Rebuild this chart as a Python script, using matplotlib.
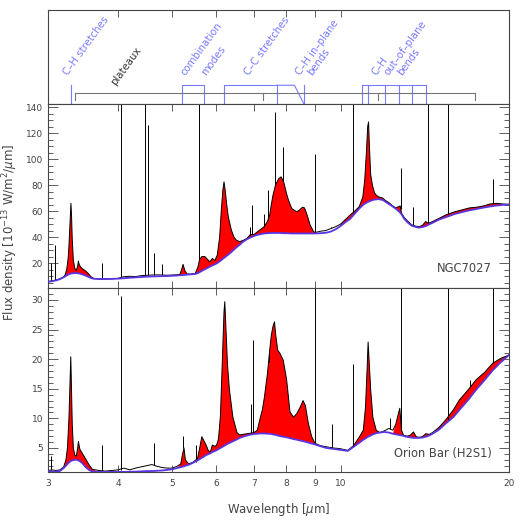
import numpy as np
import matplotlib
matplotlib.use("Agg")
import matplotlib.pyplot as plt

# ---- NGC7027 spectrum (wavelength [um], flux, continuum) ----
n7027_wave = [3.00, 3.05, 3.10, 3.15, 3.20, 3.22, 3.24, 3.26, 3.27, 3.28, 3.29, 3.297, 3.305, 3.315,
              3.33, 3.35, 3.37, 3.39, 3.40, 3.41, 3.43, 3.46, 3.50, 3.54, 3.58, 3.62, 3.70, 3.80,
              3.90, 4.00, 4.10, 4.20, 4.30, 4.40, 4.50, 4.60, 4.70, 4.80, 4.90, 5.00, 5.10, 5.16,
              5.20, 5.23, 5.27, 5.32, 5.40, 5.50, 5.56, 5.60, 5.65, 5.72, 5.78, 5.84, 5.90, 5.96,
              6.02, 6.08, 6.12, 6.16, 6.19, 6.22, 6.26, 6.30, 6.38, 6.45, 6.51, 6.60, 6.70, 6.80,
              6.90, 7.00, 7.10, 7.20, 7.30, 7.40, 7.47, 7.52, 7.57, 7.65, 7.75, 7.83, 7.92, 8.00,
              8.07, 8.18, 8.35, 8.45, 8.55, 8.62, 8.70, 8.82, 8.94, 9.00, 9.20, 9.40, 9.60, 9.80,
              10.0, 10.2, 10.4, 10.6, 10.8, 10.96, 11.05, 11.12, 11.18, 11.22, 11.26, 11.32, 11.40,
              11.50, 11.60, 11.70, 11.90, 12.00, 12.20, 12.40, 12.55, 12.70, 12.78, 12.85, 13.00,
              13.20, 13.40, 13.60, 13.80, 14.00, 14.20, 14.35, 14.60, 15.00, 15.50, 16.00, 16.50,
              17.00, 17.50, 18.00, 18.50, 19.00, 19.50, 20.00]
n7027_flux = [5.8, 6.3, 6.9, 7.9, 9.5, 11.0, 15.0, 24.0, 33.0, 45.0, 58.0, 66.0, 57.0, 38.0,
              22.0, 16.0, 14.0, 18.0, 21.5, 19.0, 17.0, 15.5, 14.0, 12.0, 9.5, 8.2, 7.8, 7.8,
              7.9, 8.2, 9.5, 9.8, 9.6, 10.3, 10.6, 10.8, 10.9, 10.8, 10.6, 10.8, 11.0, 11.2,
              15.0, 19.0, 14.0, 11.5, 11.5, 12.0, 17.0, 23.0, 25.0, 25.0, 23.0, 21.0, 23.5, 22.0,
              26.0, 40.0, 60.0, 76.0, 82.5, 76.0, 65.0, 55.6, 45.4, 40.0, 37.7, 36.5, 37.5, 39.0,
              42.0, 42.0, 44.0, 46.0, 48.0, 52.0, 57.0, 65.0, 72.0, 80.0, 85.0, 86.4, 82.0, 74.0,
              68.5, 62.0, 59.5, 61.0, 63.0, 62.5, 58.0, 49.5, 44.5, 43.5, 44.5, 45.0, 46.5, 48.0,
              50.0, 53.5, 57.0, 60.0, 63.5, 71.0, 85.0, 105.0, 125.0, 128.7, 110.0, 88.0, 80.0,
              74.0, 72.0, 71.0, 70.0, 68.5, 66.5, 64.0, 62.5, 63.5, 64.0, 58.5, 55.0,
              52.0, 49.5, 48.5, 48.0, 49.0, 52.0, 50.5, 52.0, 54.5, 57.5, 59.5, 61.0,
              62.5, 63.0, 64.0, 65.5, 66.0, 65.5, 65.2]
n7027_cont = [5.5, 6.0, 6.6, 7.6, 9.0, 9.8, 10.5, 11.0, 11.3, 11.6, 11.8, 11.9, 12.0, 12.1,
              12.2, 12.3, 12.3, 12.2, 12.1, 12.0, 11.7, 11.2, 10.4, 9.4, 8.5, 7.9, 7.7, 7.7,
              7.8, 8.0, 8.3, 8.7, 9.0, 9.3, 9.5, 9.7, 9.8, 9.9, 10.0, 10.2, 10.4, 10.6,
              10.8, 10.9, 11.0, 11.1, 11.3, 11.6, 12.3, 13.0, 14.0, 15.2, 16.3, 17.3, 18.2, 19.0,
              20.0, 21.3, 22.3, 23.3, 24.0, 24.7, 25.6, 26.5, 28.5, 30.4, 32.0, 34.0, 36.5, 38.3,
              39.7, 40.8, 41.7, 42.3, 42.8, 43.0, 43.1, 43.2, 43.2, 43.2, 43.2, 43.1, 43.0, 43.0,
              42.9, 42.8, 42.8, 42.8, 42.8, 42.8, 42.8, 42.8, 42.8, 42.8, 43.0, 43.3, 44.2, 46.0,
              48.5, 51.5, 54.0, 58.0, 62.0, 64.6, 65.8, 66.5, 67.0, 67.3, 67.6, 68.0, 68.5,
              68.9, 69.1, 69.2, 68.6, 67.5, 65.5, 63.5, 61.8, 60.0, 58.8, 57.5, 54.0,
              51.0, 48.8, 47.9, 47.3, 47.7, 48.5, 49.5, 51.0, 53.5, 55.7, 57.8, 59.3,
              60.6, 61.7, 62.7, 63.6, 64.3, 64.8, 65.1]
n7027_bands = [(3.2, 3.62), (5.16, 5.35), (5.5, 9.0), (10.0, 20.0)]
n7027_line_wave = [3.04, 3.09, 3.74, 4.05, 4.48, 4.53, 4.65, 4.80, 5.59, 6.88, 6.95, 7.31, 7.42,
                   7.65, 7.90, 9.00, 9.62, 10.51, 12.81, 13.10, 13.45, 14.32, 15.55, 18.71]
n7027_line_top = [20, 34, 20, 150, 150, 126, 27.5, 19, 150, 48, 65, 58, 76,
                  136, 109.5, 104, 48, 150, 93, 53, 63, 150, 150, 85]
n7027_line_base = [6.2, 6.8, 7.8, 8.5, 10.5, 10.6, 10.8, 10.8, 22, 41, 42, 48, 53,
                   80, 83, 43.5, 47, 58.5, 62, 53, 49.3, 51, 57.7, 65.6]

# ---- Orion Bar (H2S1) spectrum ----
orion_wave = [3.00, 3.05, 3.10, 3.15, 3.20, 3.23, 3.25, 3.27, 3.28, 3.29, 3.295, 3.305, 3.315, 3.33,
              3.35, 3.37, 3.39, 3.40, 3.42, 3.45, 3.50, 3.55, 3.60, 3.70, 3.80, 3.90, 4.00, 4.10,
              4.20, 4.30, 4.40, 4.50, 4.60, 4.70, 4.80, 4.90, 5.00, 5.10, 5.18, 5.22, 5.25, 5.28,
              5.35, 5.45, 5.55, 5.60, 5.65, 5.70, 5.75, 5.80, 5.85, 5.90, 5.95, 6.00, 6.05, 6.10,
              6.15, 6.19, 6.21, 6.24, 6.28, 6.33, 6.42, 6.53, 6.60, 6.70, 6.80, 6.90, 7.00, 7.10,
              7.16, 7.25, 7.31, 7.40, 7.47, 7.52, 7.57, 7.62, 7.66, 7.72, 7.79, 7.90, 8.01, 8.12,
              8.24, 8.35, 8.47, 8.57, 8.65, 8.76, 8.88, 9.00, 9.20, 9.43, 9.70, 9.96, 10.30, 10.55,
              10.81, 10.98, 11.08, 11.15, 11.20, 11.26, 11.32, 11.42, 11.58, 11.75, 11.98, 12.20,
              12.40, 12.55, 12.70, 12.76, 12.85, 12.95, 13.10, 13.30, 13.50, 13.65, 13.80, 14.00,
              14.20, 14.40, 14.60, 15.00, 15.40, 15.90, 16.30, 16.90, 17.46, 18.10, 18.70, 19.30,
              20.00]
orion_flux = [1.2, 1.3, 1.2, 1.3, 1.8, 3.0, 5.0, 10.0, 14.0, 18.5, 20.4, 15.0, 9.0, 5.0,
              3.8, 3.6, 5.0, 6.1, 4.8, 4.2, 3.2, 2.2, 1.4, 1.2, 1.1, 1.2, 1.3, 1.6,
              1.3, 1.6, 1.8, 2.0, 2.2, 1.9, 1.7, 1.6, 1.6, 1.9, 2.3, 4.0, 5.0, 3.0,
              2.3, 2.6, 3.2, 5.0, 6.9, 6.2, 5.5, 4.6, 4.3, 5.5, 5.3, 5.4, 6.5, 10.5,
              20.0, 28.0, 29.7, 25.0, 19.0, 14.8, 10.2, 7.6, 7.2, 7.3, 7.4, 7.5, 7.6, 8.0,
              9.5, 11.5, 13.6, 17.5, 21.5, 24.0, 25.5, 26.3, 24.0, 21.5, 21.0, 19.8, 16.5, 11.1,
              10.2, 10.8, 11.9, 13.0, 12.2, 9.1, 6.9, 5.8, 5.4, 5.2, 5.0, 4.9, 4.6, 5.4,
              6.9, 8.0, 11.9, 18.0, 22.9, 19.0, 14.8, 10.2, 8.0, 7.6, 7.9, 8.3,
              8.0, 9.0, 11.0, 11.7, 8.0, 7.2, 7.0, 7.1, 7.7, 6.9, 6.8, 6.9,
              7.4, 7.3, 7.6, 8.5, 9.7, 11.4, 13.1, 14.8, 16.5, 17.8, 19.3, 20.1,
              20.7]
orion_cont = [1.0, 1.0, 1.0, 1.1, 1.6, 2.0, 2.3, 2.55, 2.65, 2.75, 2.8, 2.85, 2.9, 2.95,
              3.0, 3.0, 2.95, 2.9, 2.75, 2.5, 1.8, 1.3, 1.0, 0.95, 0.95, 0.95, 0.95, 0.96,
              0.98, 1.0, 1.05, 1.1, 1.1, 1.15, 1.2, 1.3, 1.4, 1.6, 1.75, 1.85, 1.9, 2.0,
              2.15, 2.5, 2.9, 3.1, 3.35, 3.55, 3.8, 3.95, 4.1, 4.3, 4.45, 4.6, 4.8, 5.0,
              5.2, 5.35, 5.45, 5.55, 5.7, 5.85, 6.1, 6.45, 6.7, 6.9, 7.1, 7.25, 7.35, 7.4,
              7.45, 7.45, 7.45, 7.4, 7.4, 7.35, 7.3, 7.25, 7.2, 7.1, 7.0, 6.9, 6.8, 6.65,
              6.5, 6.4, 6.25, 6.15, 6.05, 5.9, 5.75, 5.6, 5.3, 5.0, 4.85, 4.7, 4.5, 5.2,
              5.9, 6.4, 6.6, 6.8, 6.9, 7.0, 7.1, 7.3, 7.5, 7.6, 7.7, 7.6,
              7.4, 7.3, 7.2, 7.15, 7.1, 7.05, 6.9, 6.8, 6.7, 6.7, 6.7, 6.75,
              6.9, 7.1, 7.4, 8.1, 9.1, 10.2, 11.4, 13.1, 14.8, 16.5, 18.1, 19.4,
              20.7]
orion_bands = [(3.2, 3.6), (5.17, 5.32), (5.55, 9.0), (10.5, 11.8), (12.45, 12.95),
               (13.3, 13.7), (14.0, 14.5), (14.8, 20.0)]
orion_line_wave = [3.04, 3.74, 4.05, 4.65, 5.23, 5.51, 6.91, 6.98, 7.45, 9.00, 9.66, 10.51,
                   12.28, 12.81, 15.55, 17.00, 18.71]
orion_line_top = [3.6, 5.5, 30.6, 5.9, 7.1, 5.5, 12.5, 23.2, 21.5, 35, 9.0, 19.1,
                  10.0, 35, 35, 16.5, 35]
orion_line_base = [1.3, 1.1, 1.3, 2.1, 5.0, 2.6, 7.5, 7.6, 19.5, 5.8, 5.0, 5.2,
                   8.2, 8.0, 9.6, 15.3, 19.3]

# ---- band annotations in top panel ----
box_combination = (5.2, 5.7)
box_cc = (6.2, 7.7)
inplane = (7.7, 8.27, 8.6)
oop_edges = [10.9, 11.2, 12.0, 12.7, 13.4, 14.2]
plateau_ticks = [3.35, 7.28, 11.67, 17.4]
ch_stretch = 3.3

xtick_vals = [3, 4, 5, 6, 7, 8, 9, 10, 20]

GRAY = "#444444"
BLUE = "#7a7aff"
CONT = "#5a34e0"

plt.rcParams['font.family'] = ['DejaVu Sans']

fig = plt.figure(figsize=(5.24, 5.24), dpi=100)
ax_top = fig.add_axes([0.0916, 0.8015, 0.8798, 0.1788])
ax_mid = fig.add_axes([0.0916, 0.4504, 0.8798, 0.3511])
ax_bot = fig.add_axes([0.0916, 0.0992, 0.8798, 0.3511])


def style_axis(ax):
    ax.set_xscale('log')
    ax.set_xlim(3, 20)
    ax.xaxis.set_major_locator(matplotlib.ticker.FixedLocator(xtick_vals))
    ax.xaxis.set_minor_locator(matplotlib.ticker.NullLocator())
    for s in ax.spines.values():
        s.set_color(GRAY)
        s.set_linewidth(0.8)
    ax.tick_params(axis='both', which='both', direction='in', colors=GRAY,
                   labelcolor=GRAY, labelsize=6.5, width=0.6)
    ax.tick_params(axis='x', which='major', length=5, top=True, bottom=True)
    ax.tick_params(axis='y', which='major', length=7, left=True, right=True)
    ax.tick_params(axis='y', which='minor', length=3.5, left=True, right=True)


def draw_spectrum(ax, wave, flux, cont, bands, lw_, lt_, lb_):
    w = np.array(wave)
    f = np.array(flux)
    c = np.array(cont)
    mask = np.zeros(len(w), dtype=bool)
    for lo, hi in bands:
        mask |= (w >= lo) & (w <= hi)
    mask &= f >= c
    ax.fill_between(w, c, f, where=mask, interpolate=True, color='red', lw=0, zorder=1)
    ax.vlines(lw_, lb_, lt_, color='black', lw=0.7, zorder=2)
    ax.plot(w, f, color='black', lw=0.7, zorder=2)
    ax.plot(w, c, color=CONT, lw=1.3, zorder=3)


# top panel with band labels
style_axis(ax_top)
ax_top.set_ylim(0, 1)
ax_top.set_yticks([])
ax_top.tick_params(axis='x', bottom=False, labelbottom=False, top=True)
ax_top.plot([ch_stretch, ch_stretch], [0, 0.2], color=BLUE, lw=0.8)
for lo, hi in [box_combination, box_cc]:
    ax_top.plot([lo, lo, hi, hi], [0, 0.2, 0.2, 0], color=BLUE, lw=0.8)
ax_top.plot([inplane[0], inplane[1], inplane[2]], [0.2, 0.2, 0], color=BLUE, lw=0.8)
ax_top.plot([inplane[2], inplane[2]], [0, 0.2], color=BLUE, lw=0.8)
ax_top.plot([oop_edges[0], oop_edges[-1]], [0.2, 0.2], color=BLUE, lw=0.8)
for e in oop_edges:
    ax_top.plot([e, e], [0, 0.2], color=BLUE, lw=0.8)
ax_top.plot([plateau_ticks[0], plateau_ticks[-1]], [0.114, 0.114], color='#777777', lw=0.8)
for p in plateau_ticks:
    ax_top.plot([p, p], [0.114, 0.043], color='#777777', lw=0.8)

labels = [
    (3.256, 0.302, "C\u2013H stretches", BLUE),
    (3.966, 0.192, "plateaux", "#333333"),
    (5.29, 0.302, "combination", BLUE),
    (5.744, 0.302, "modes", BLUE),
    (6.85, 0.302, "C\u2013C stretches", BLUE),
    (8.47, 0.302, "C\u2013H in\u2013plane", BLUE),
    (8.91, 0.302, "bends", BLUE),
    (11.57, 0.302, "C\u2013H", BLUE),
    (12.22, 0.302, "out\u2013of\u2013plane", BLUE),
    (12.89, 0.302, "bends", BLUE),
]
for x, y, t, col in labels:
    ax_top.text(x, y, t, rotation=54, rotation_mode='anchor', ha='left', va='baseline',
                color=col, fontsize=7.3)

# middle panel: NGC7027
style_axis(ax_mid)
draw_spectrum(ax_mid, n7027_wave, n7027_flux, n7027_cont, n7027_bands,
              n7027_line_wave, n7027_line_top, n7027_line_base)
ax_mid.set_ylim(0.8, 142.5)
ax_mid.set_yticks([20, 40, 60, 80, 100, 120, 140])
ax_mid.yaxis.set_minor_locator(matplotlib.ticker.MultipleLocator(5))
ax_mid.tick_params(axis='x', labelbottom=False)
ax_mid.text(0.962, 0.087, "NGC7027", transform=ax_mid.transAxes, ha='right',
            va='baseline', color=GRAY, fontsize=8.3)

# bottom panel: Orion Bar
style_axis(ax_bot)
draw_spectrum(ax_bot, orion_wave, orion_flux, orion_cont, orion_bands,
              orion_line_wave, orion_line_top, orion_line_base)
ax_bot.set_ylim(0.94, 32.0)
ax_bot.set_yticks([5, 10, 15, 20, 25, 30])
ax_bot.yaxis.set_minor_locator(matplotlib.ticker.MultipleLocator(1))
ax_bot.set_xticks(xtick_vals)
ax_bot.set_xticklabels([str(v) for v in xtick_vals])
ax_bot.tick_params(axis='x', pad=5)
ax_bot.text(0.962, 0.083, "Orion Bar (H2S1)", transform=ax_bot.transAxes, ha='right',
            va='baseline', color=GRAY, fontsize=8.3)

fig.text(0.531, 0.028, r"Wavelength [$\mu$m]", ha='center', va='center',
         color=GRAY, fontsize=8.5)
fig.text(0.019, 0.557, r"Flux density [10$^{-13}$ W/m$^2$/$\mu$m]", rotation=90,
         ha='center', va='center', color=GRAY, fontsize=8.5)

fig.savefig("out.png", dpi=100)
